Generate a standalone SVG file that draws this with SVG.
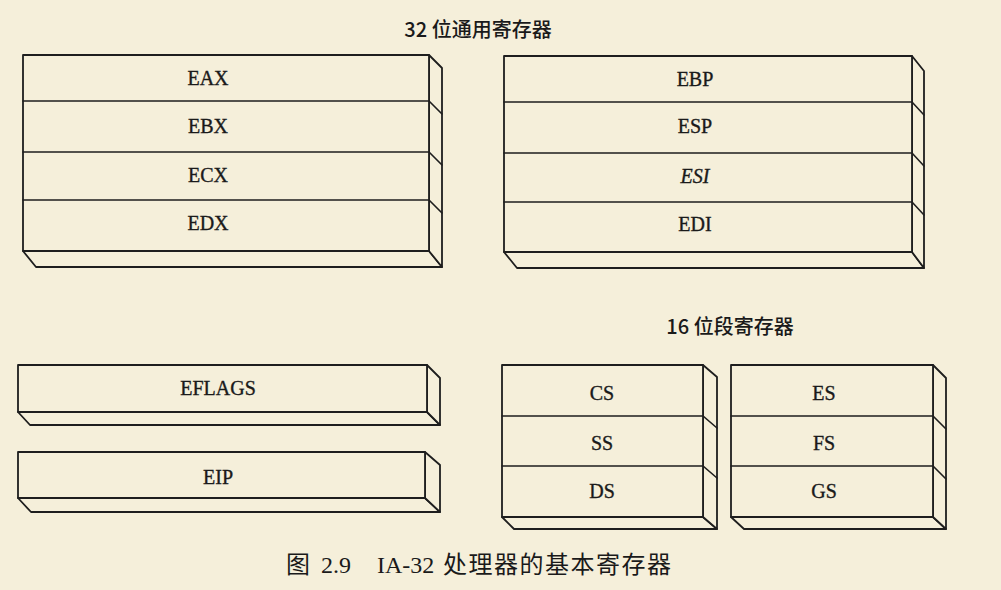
<svg xmlns="http://www.w3.org/2000/svg" width="1001" height="590" viewBox="0 0 1001 590">
<defs>
<style>
.bg{fill:#f5efda}
.f{fill:#f5efda;stroke:#1e1e1e;stroke-width:1.8;stroke-linejoin:round}
.l{fill:none;stroke:#1e1e1e;stroke-width:1.6;stroke-linecap:round}
.r{font-family:"Liberation Serif","Times New Roman",serif;font-size:20px;fill:#1a1a1a;stroke:#1a1a1a;stroke-width:0.35;text-anchor:middle}
.h{font-family:"Noto Sans CJK SC","Liberation Sans",sans-serif;font-size:20px;font-weight:500;fill:#1a1a1a;text-anchor:middle}
.c{font-family:"Liberation Serif","Noto Sans CJK SC",serif;font-size:24px;fill:#1a1a1a}
.cj{font-family:"Noto Sans CJK SC",sans-serif;font-size:24px;fill:#1a1a1a}
</style>
</defs>
<rect class="bg" x="0" y="0" width="1001" height="590"/>

<text class="h" x="478" y="37">32 位通用寄存器</text>
<text class="h" x="730" y="334">16 位段寄存器</text>

<g id="gp-left">
  <polygon class="f" points="23,251 36,267 442,267 429,251"/>
  <polygon class="f" points="429,55 442,68 442,267 429,251"/>
  <rect class="f" x="23" y="55" width="406" height="196"/>
  <path class="l" d="M23,101H429L442,114M23,152H429L442,165M23,200H429L442,213"/>
  <g id="eax"><text class="r" x="208" y="85">EAX</text></g>
  <g id="ebx"><text class="r" x="208" y="133">EBX</text></g>
  <g id="ecx"><text class="r" x="208" y="182">ECX</text></g>
  <g id="edx"><text class="r" x="208" y="230">EDX</text></g>
</g>

<g id="gp-right">
  <polygon class="f" points="504,252 517,268 924,268 912,252"/>
  <polygon class="f" points="912,56 924,71 924,268 912,252"/>
  <rect class="f" x="504" y="56" width="408" height="196"/>
  <path class="l" d="M504,102H912L924,115M504,153H912L924,166M504,202H912L924,215"/>
  <g id="ebp"><text class="r" x="695" y="86">EBP</text></g>
  <g id="esp"><text class="r" x="695" y="133">ESP</text></g>
  <g id="esi"><text class="r" x="695" y="183" font-style="italic">ESI</text></g>
  <g id="edi"><text class="r" x="695" y="231">EDI</text></g>
</g>

<g id="eflags">
  <polygon class="f" points="18,412 30,425 440,425 427,412"/>
  <polygon class="f" points="427,365 440,378 440,425 427,412"/>
  <rect class="f" x="18" y="365" width="409" height="47"/>
  <text class="r" x="218" y="395">EFLAGS</text>
</g>

<g id="eip">
  <polygon class="f" points="18,498 31,512 440,512 425,498"/>
  <polygon class="f" points="425,452 440,465 440,512 425,498"/>
  <rect class="f" x="18" y="452" width="407" height="46"/>
  <text class="r" x="218" y="484">EIP</text>
</g>

<g id="seg-left">
  <polygon class="f" points="502,517 514,529 717,529 703,517"/>
  <polygon class="f" points="703,365 717,377 717,529 703,517"/>
  <rect class="f" x="502" y="365" width="201" height="152"/>
  <path class="l" d="M502,416H703L717,428M502,466H703L717,478"/>
  <g id="cs"><text class="r" x="602" y="400">CS</text></g>
  <g id="ss"><text class="r" x="602" y="450">SS</text></g>
  <g id="ds"><text class="r" x="602" y="498">DS</text></g>
</g>

<g id="seg-right">
  <polygon class="f" points="731,517 744,529 946,529 933,517"/>
  <polygon class="f" points="933,365 946,378 946,529 933,517"/>
  <rect class="f" x="731" y="365" width="202" height="152"/>
  <path class="l" d="M731,416H933L946,429M731,466H933L946,479"/>
  <g id="es"><text class="r" x="824" y="400">ES</text></g>
  <g id="fs"><text class="r" x="824" y="450">FS</text></g>
  <g id="gs"><text class="r" x="824" y="498">GS</text></g>
</g>

<g id="caption">
  <text class="cj" x="286" y="573">图</text>
  <text class="c" x="321" y="573">2.9</text>
  <text class="c" x="377" y="573">IA-32</text>
  <text class="cj" x="443" y="573" textLength="228">处理器的基本寄存器</text>
</g>
</svg>
